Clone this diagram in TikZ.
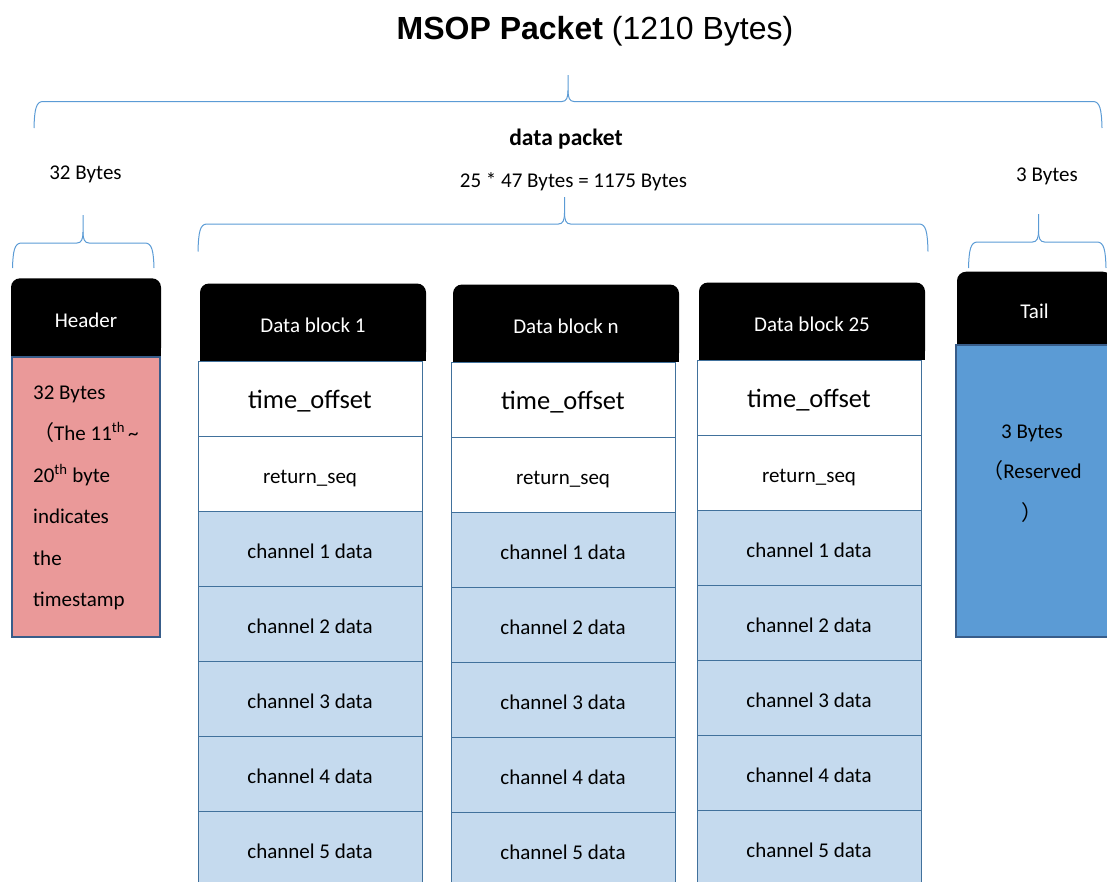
\documentclass[tikz,border=0pt]{standalone}
\usepackage{fontspec}
\setmainfont{Carlito}
\newfontfamily\arialfont{Liberation Sans}
\newfontfamily\cjkfont{Noto Sans CJK SC}
\usetikzlibrary{positioning}

\definecolor{bracecol}{HTML}{5B9BD5}
\definecolor{cellline}{HTML}{41719C}
\definecolor{bodyline}{HTML}{385D8A}
\definecolor{chanfill}{HTML}{C5DAEE}
\definecolor{hdrfill}{HTML}{EA9999}
\definecolor{tailfill}{HTML}{5B9BD5}

\newcommand{\txtsize}{\fontsize{21}{25}\selectfont}
% full width brackets
\newcommand{\fwlparen}{{\cjkfont （}}
\newcommand{\fwrparen}{{\cjkfont ）}}

\tikzset{
  blockhead/.style={fill=black, text=white, rounded corners=9pt, inner sep=0pt,
    outer sep=0pt, text height=25pt, text depth=5pt, font=\txtsize},
  cellbox/.style={draw=cellline, line width=0.9pt, fill=white, inner sep=0pt,
    outer sep=0pt, text height=25pt, text depth=5pt,
    minimum width=224pt, minimum height=75pt, font=\txtsize},
  chanbox/.style={cellbox, fill=chanfill},
  bodybox/.style={draw=bodyline, line width=1.8pt},
  brace/.style={draw=bracecol, line width=1pt},
  lbl/.style={inner sep=0pt, text height=20pt, text depth=5pt, font=\txtsize},
}

\begin{document}
\begin{tikzpicture}[x=1pt, y=-1pt]
  \useasboundingbox (0,0) rectangle (1107,881);
  \clip (0,0) rectangle (1107,881);

  % title and byte counts
  \node[inner sep=0pt, font=\arialfont\fontsize{32}{38}\selectfont] (title) at (595,31)
    {\textbf{MSOP Packet} (1210 Bytes)};
  \node[lbl, font=\fontsize{23.5}{28}\selectfont\bfseries] (pkt) at (566,138) {data packet};
  \node[lbl] (pktsize) at (573.5,180) {25 * 47 Bytes = 1175 Bytes};
  \node[lbl] (hdsize) at (85.5,172) {32 Bytes};
  \node[lbl] (tlsize) at (1047,174) {3 Bytes};

  % braces: left foot, tip, right foot, tip top, bar, feet
  \foreach \xa/\xm/\xb/\yt/\yl/\yb in
    {34/568/1102/75/101.5/128, 12.5/83/154/215/243/268,
     198/564.5/928/197/224/251.5, 968.5/1038.5/1106/214/242/268}
    {
      \draw[brace] (\xa,\yb) .. controls (\xa+0.5,\yl+8) and (\xa+2,\yl) .. (\xa+9,\yl)
        -- (\xm-6,\yl) .. controls (\xm-1.5,\yl) and (\xm,\yl-4) .. (\xm,\yl-11) -- (\xm,\yt);
      \draw[brace] (\xm,\yl-11) .. controls (\xm,\yl-4) and (\xm+1.5,\yl) .. (\xm+6,\yl)
        -- (\xb-9,\yl) .. controls (\xb-2,\yl) and (\xb-0.5,\yl+8) .. (\xb,\yb);
    }

  % header column
  \node[blockhead, minimum width=150pt, minimum height=78.5pt, anchor=north west] (hd)
    at (11,278.3) {Header};
  \fill ([yshift=10pt]hd.south west) rectangle (hd.south east);
  \draw[bodybox, fill=hdrfill] (12,356.7) rectangle (160,637);
  \foreach \i/\ln in {0/32 Bytes,
      1/\fwlparen The 11\textsuperscript{th}\hspace{3pt}\textasciitilde,
      2/20\textsuperscript{th} byte, 3/indicates, 4/the, 5/timestamp}
    \node[lbl, anchor=west] (hl\i) at (33,391.5+41.5*\i) {\ln};

  % data blocks
  \foreach \nm/\x/\y/\num in {b1/198/361/1, bn/451/362/n, bz/697/360/25}
    {
      \node[blockhead, minimum width=226pt, minimum height=77.5pt, anchor=south west] (\nm)
        at (\x+2,\y) {Data block \num};
      \fill ([yshift=10pt]\nm.south west) rectangle (\nm.south east);
      \node[cellbox, anchor=north west, font=\fontsize{26.5}{30}\selectfont] (\nm-t)
        at (\x,\y) {time\_offset};
      \node[cellbox, below=0pt of \nm-t] (\nm-r) {return\_seq};
      \foreach \ch [remember=\ch as \prev (initially r)] in {1,...,5}
        \node[chanbox, below=0pt of \nm-\prev] (\nm-\ch) {channel \ch{} data};
    }

  % tail column
  \node[blockhead, minimum width=155pt, minimum height=73.3pt, anchor=north west] (tl)
    at (957,271.7) {Tail};
  \fill ([yshift=10pt]tl.south west) rectangle (tl.south east);
  \draw[bodybox, fill=tailfill] (956,345) rectangle (1115,637.3);
  \node[lbl] (tl1) at (1032,431) {3 Bytes};
  \node[lbl] (tl2) at (1032,471) {\fwlparen Reserved};
  \node[lbl] (tl3) at (1032,513) {\fwrparen};
\end{tikzpicture}
\end{document}
